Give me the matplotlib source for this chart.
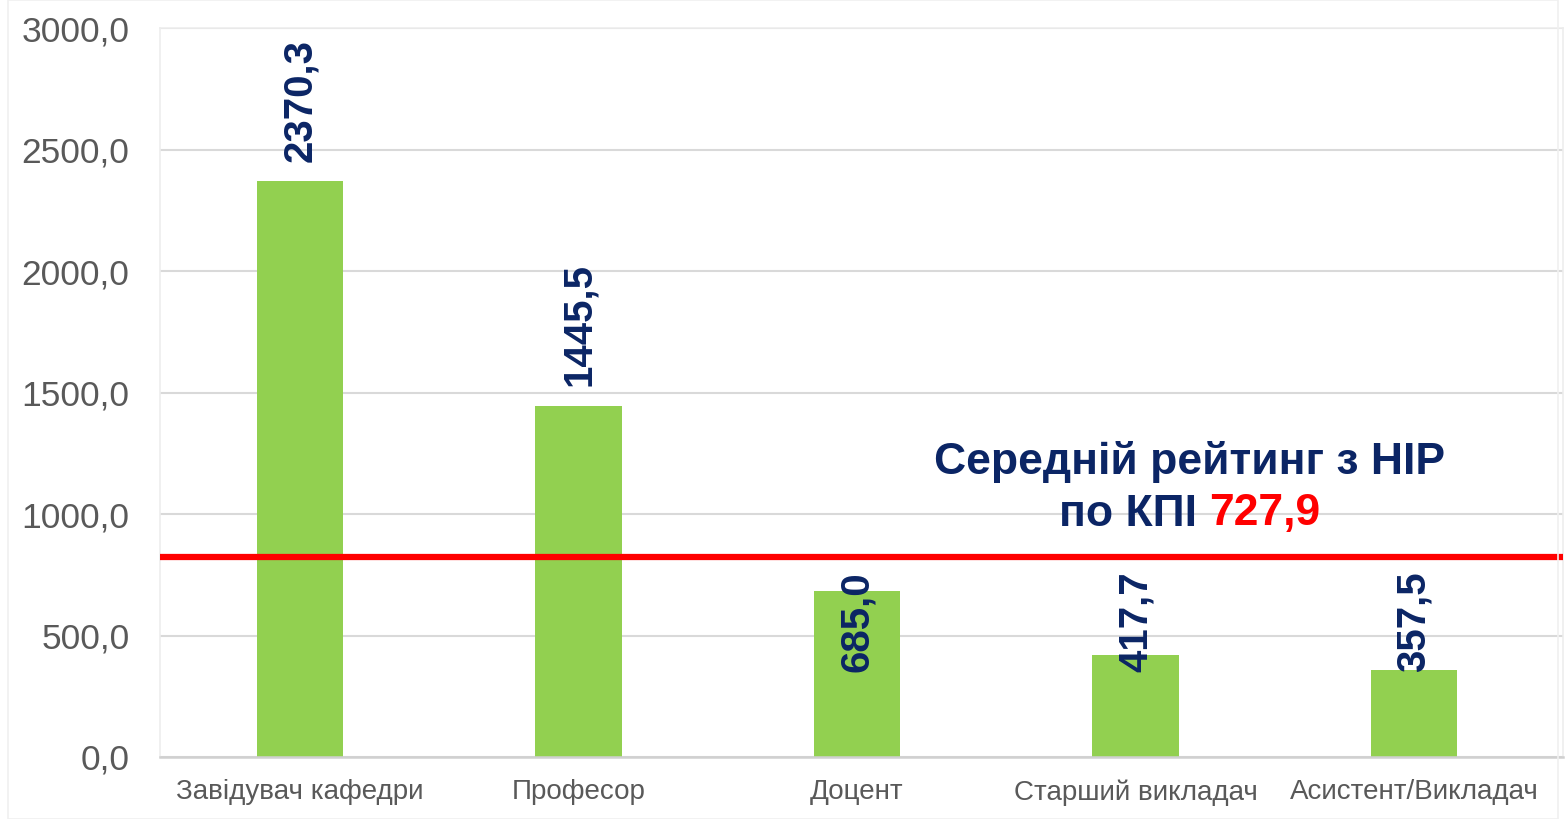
import matplotlib
matplotlib.use("Agg")
import matplotlib.pyplot as plt
from matplotlib.patches import Rectangle

categories = ["Завідувач кафедри", "Професор", "Доцент", "Старший викладач", "Асистент/Викладач"]
values = [2370.3, 1445.5, 685.0, 417.7, 357.5]
value_labels = ["2370,3", "1445,5", "685,0", "417,7", "357,5"]
avg_line = 822.0
avg_text = "727,9"
yticks = [0, 500, 1000, 1500, 2000, 2500, 3000]
ytick_labels = ["0,0", "500,0", "1000,0", "1500,0", "2000,0", "2500,0", "3000,0"]

NAVY = "#0B2565"
GREEN = "#92D050"
GRAY_TXT = "#595959"
GRID = "#D9D9D9"

plt.rcParams['font.family'] = ['Liberation Sans', 'DejaVu Sans']

fig = plt.figure(figsize=(15.66, 8.19), dpi=100)
ax = fig.add_axes([160/1566, 62/819, 1403/1566, 729/819])

x = list(range(len(categories)))
ax.bar(x, values, width=0.31, color=GREEN, zorder=2)

ax.set_xlim(-0.503, 4.535)
ax.set_ylim(0, 3000)
ax.set_yticks(yticks)
ax.set_yticklabels(ytick_labels, fontsize=25.5, color=GRAY_TXT)
ax.set_xticks(x)
ax.set_xticklabels(categories, fontsize=20, color=GRAY_TXT)
ax.tick_params(axis='both', length=0)
ax.tick_params(axis='y', pad=22)
ax.tick_params(axis='x', pad=16)
ax.grid(axis='y', color=GRID, linewidth=1.5, zorder=0)
for s in ['left', 'top', 'right']:
    ax.spines[s].set_color('#EDEDED')
    ax.spines[s].set_linewidth(1.2)
ax.spines['bottom'].set_color('#D0D0D0')
ax.spines['bottom'].set_linewidth(1.8)

for xi, v, lab in zip(x, values, value_labels):
    ypos = v + 80 if v > avg_line else 350
    ax.text(xi, ypos, lab, rotation=90, ha='center', va='bottom',
            fontsize=29, fontweight='bold', color=NAVY, zorder=4)

ax.axhline(avg_line, color='#FF0000', linewidth=4.5, zorder=3)

cx = 3.195
y1, y2 = 1215, 1000
FS = 32
ax.text(cx, y1, "Середній рейтинг з НІР", ha='center', va='center',
        fontsize=FS, fontweight='bold', color=NAVY, zorder=4)
t1 = ax.text(cx, y2, "по КПІ ", ha='right', va='center',
             fontsize=FS, fontweight='bold', color=NAVY, zorder=4)
t2 = ax.text(cx, y2, avg_text, ha='left', va='center', fontsize=FS,
             fontweight='bold', color='#FF0000', zorder=4)
fig.canvas.draw()
w1 = t1.get_window_extent().width
w2 = t2.get_window_extent().width
c_disp = ax.transData.transform((cx, y2))
split_disp = c_disp[0] - (w1 + w2) / 2 + w1
xa = ax.transData.inverted().transform((split_disp, c_disp[1]))[0]
t1.set_position((xa, y2))
t2.set_position((xa, y2))

fig.patches.append(Rectangle((8/1566, 0), 1 - 16/1566, 1, transform=fig.transFigure,
                             fill=False, edgecolor='#F0F0F0', linewidth=1.2))

fig.savefig("out.png", dpi=100)
